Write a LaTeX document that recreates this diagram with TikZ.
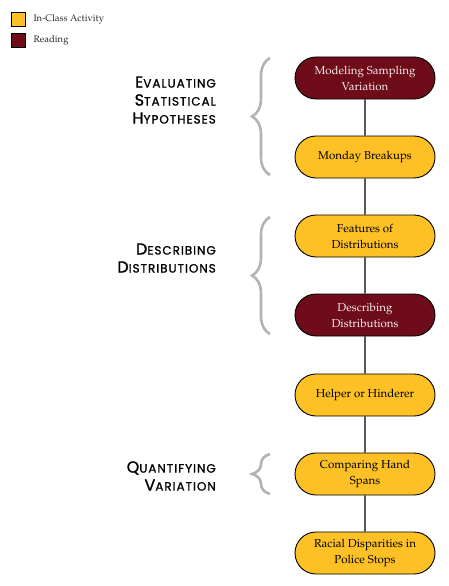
\documentclass[tikz,border=0pt]{standalone}
\usepackage{fontspec}
\newfontfamily\headfont{Poppins}[LetterSpace=8, FakeBold=1.2]
\newcommand\pal{\fontencoding{T1}\fontfamily{ppl}\selectfont}
\usetikzlibrary{shapes.misc,decorations.pathreplacing}
\definecolor{gold}{HTML}{FDC125}
\definecolor{maroon}{HTML}{6E0C19}
\definecolor{bracegray}{HTML}{B3B3B3}
\newcommand\Hsc[2]{{\fontsize{16}{18}\selectfont #1}{\fontsize{12}{18}\selectfont #2}}
\begin{document}
\begin{tikzpicture}[x=1pt,y=-1pt,
  act/.style={rounded rectangle, draw=black, line width=0.9pt, fill=gold,
    minimum width=144pt, minimum height=42pt, align=center,
    inner sep=2pt, font=\pal\fontsize{11.5}{16}\selectfont, text=black},
  rd/.style={act, fill=maroon, text=white!92!maroon},
  lbox/.style={draw=black, line width=0.8pt, minimum size=14pt, inner sep=0pt},
  ltext/.style={anchor=west, font=\pal\fontsize{9.5}{11}\selectfont, text=black!85},
  head/.style={anchor=east, align=right, inner sep=0pt, font=\headfont\fontsize{16}{18}\selectfont},
  bracestyle/.style={draw=bracegray, line width=2.6pt, decorate,
    decoration={brace, amplitude=18pt}},
  conn/.style={draw=black, line width=1.1pt}
]
\useasboundingbox (0,0) rectangle (448,586);

% legend
\node[lbox, fill=gold] (lg1) at (18,19) {};
\node[lbox, fill=maroon] (lg2) at (18,40) {};
\node[ltext] (lt1) at (30,19) {In-Class Activity};
\node[ltext] (lt2) at (30,40) {Reading};

% nodes
\node[rd]  (n1) at (365,78)  {Modeling Sampling\\ Variation};
\node[act] (n2) at (365,157) {Monday Breakups};
\node[act] (n3) at (365,236) {Features of\\ Distributions};
\node[rd]  (n4) at (365,315) {Describing\\ Distributions};
\node[act] (n5) at (365,395) {Helper or Hinderer};
\node[act] (n6) at (365,474) {Comparing Hand\\ Spans};
\node[act] (n7) at (365,553) {Racial Disparities in\\ Police Stops};

\draw[conn] (n1) -- (n2);
\draw[conn] (n2) -- (n3);
\draw[conn] (n3) -- (n4);
\draw[conn] (n4) -- (n5);
\draw[conn] (n5) -- (n6);
\draw[conn] (n6) -- (n7);

% braces
\coordinate (b1t) at (270,58);
\coordinate (b1b) at (270,175);
\coordinate (b2t) at (270,217);
\coordinate (b2b) at (270,334);
\coordinate (b3t) at (270,454);
\coordinate (b3b) at (270,494);
\draw[bracestyle] (b1b) -- (b1t);
\draw[bracestyle] (b2b) -- (b2t);
\draw[bracestyle] (b3b) -- (b3t);

% headings
\node[head] (h1) at (216,100) {\Hsc{E}{VALUATING}\\\Hsc{S}{TATISTICAL}\\\Hsc{H}{YPOTHESES}};
\node[head] (h2) at (216,258) {\Hsc{D}{ESCRIBING}\\\Hsc{D}{ISTRIBUTIONS}};
\node[head] (h3) at (216,476) {\Hsc{Q}{UANTIFYING}\\\Hsc{V}{ARIATION}};
\end{tikzpicture}
\end{document}
